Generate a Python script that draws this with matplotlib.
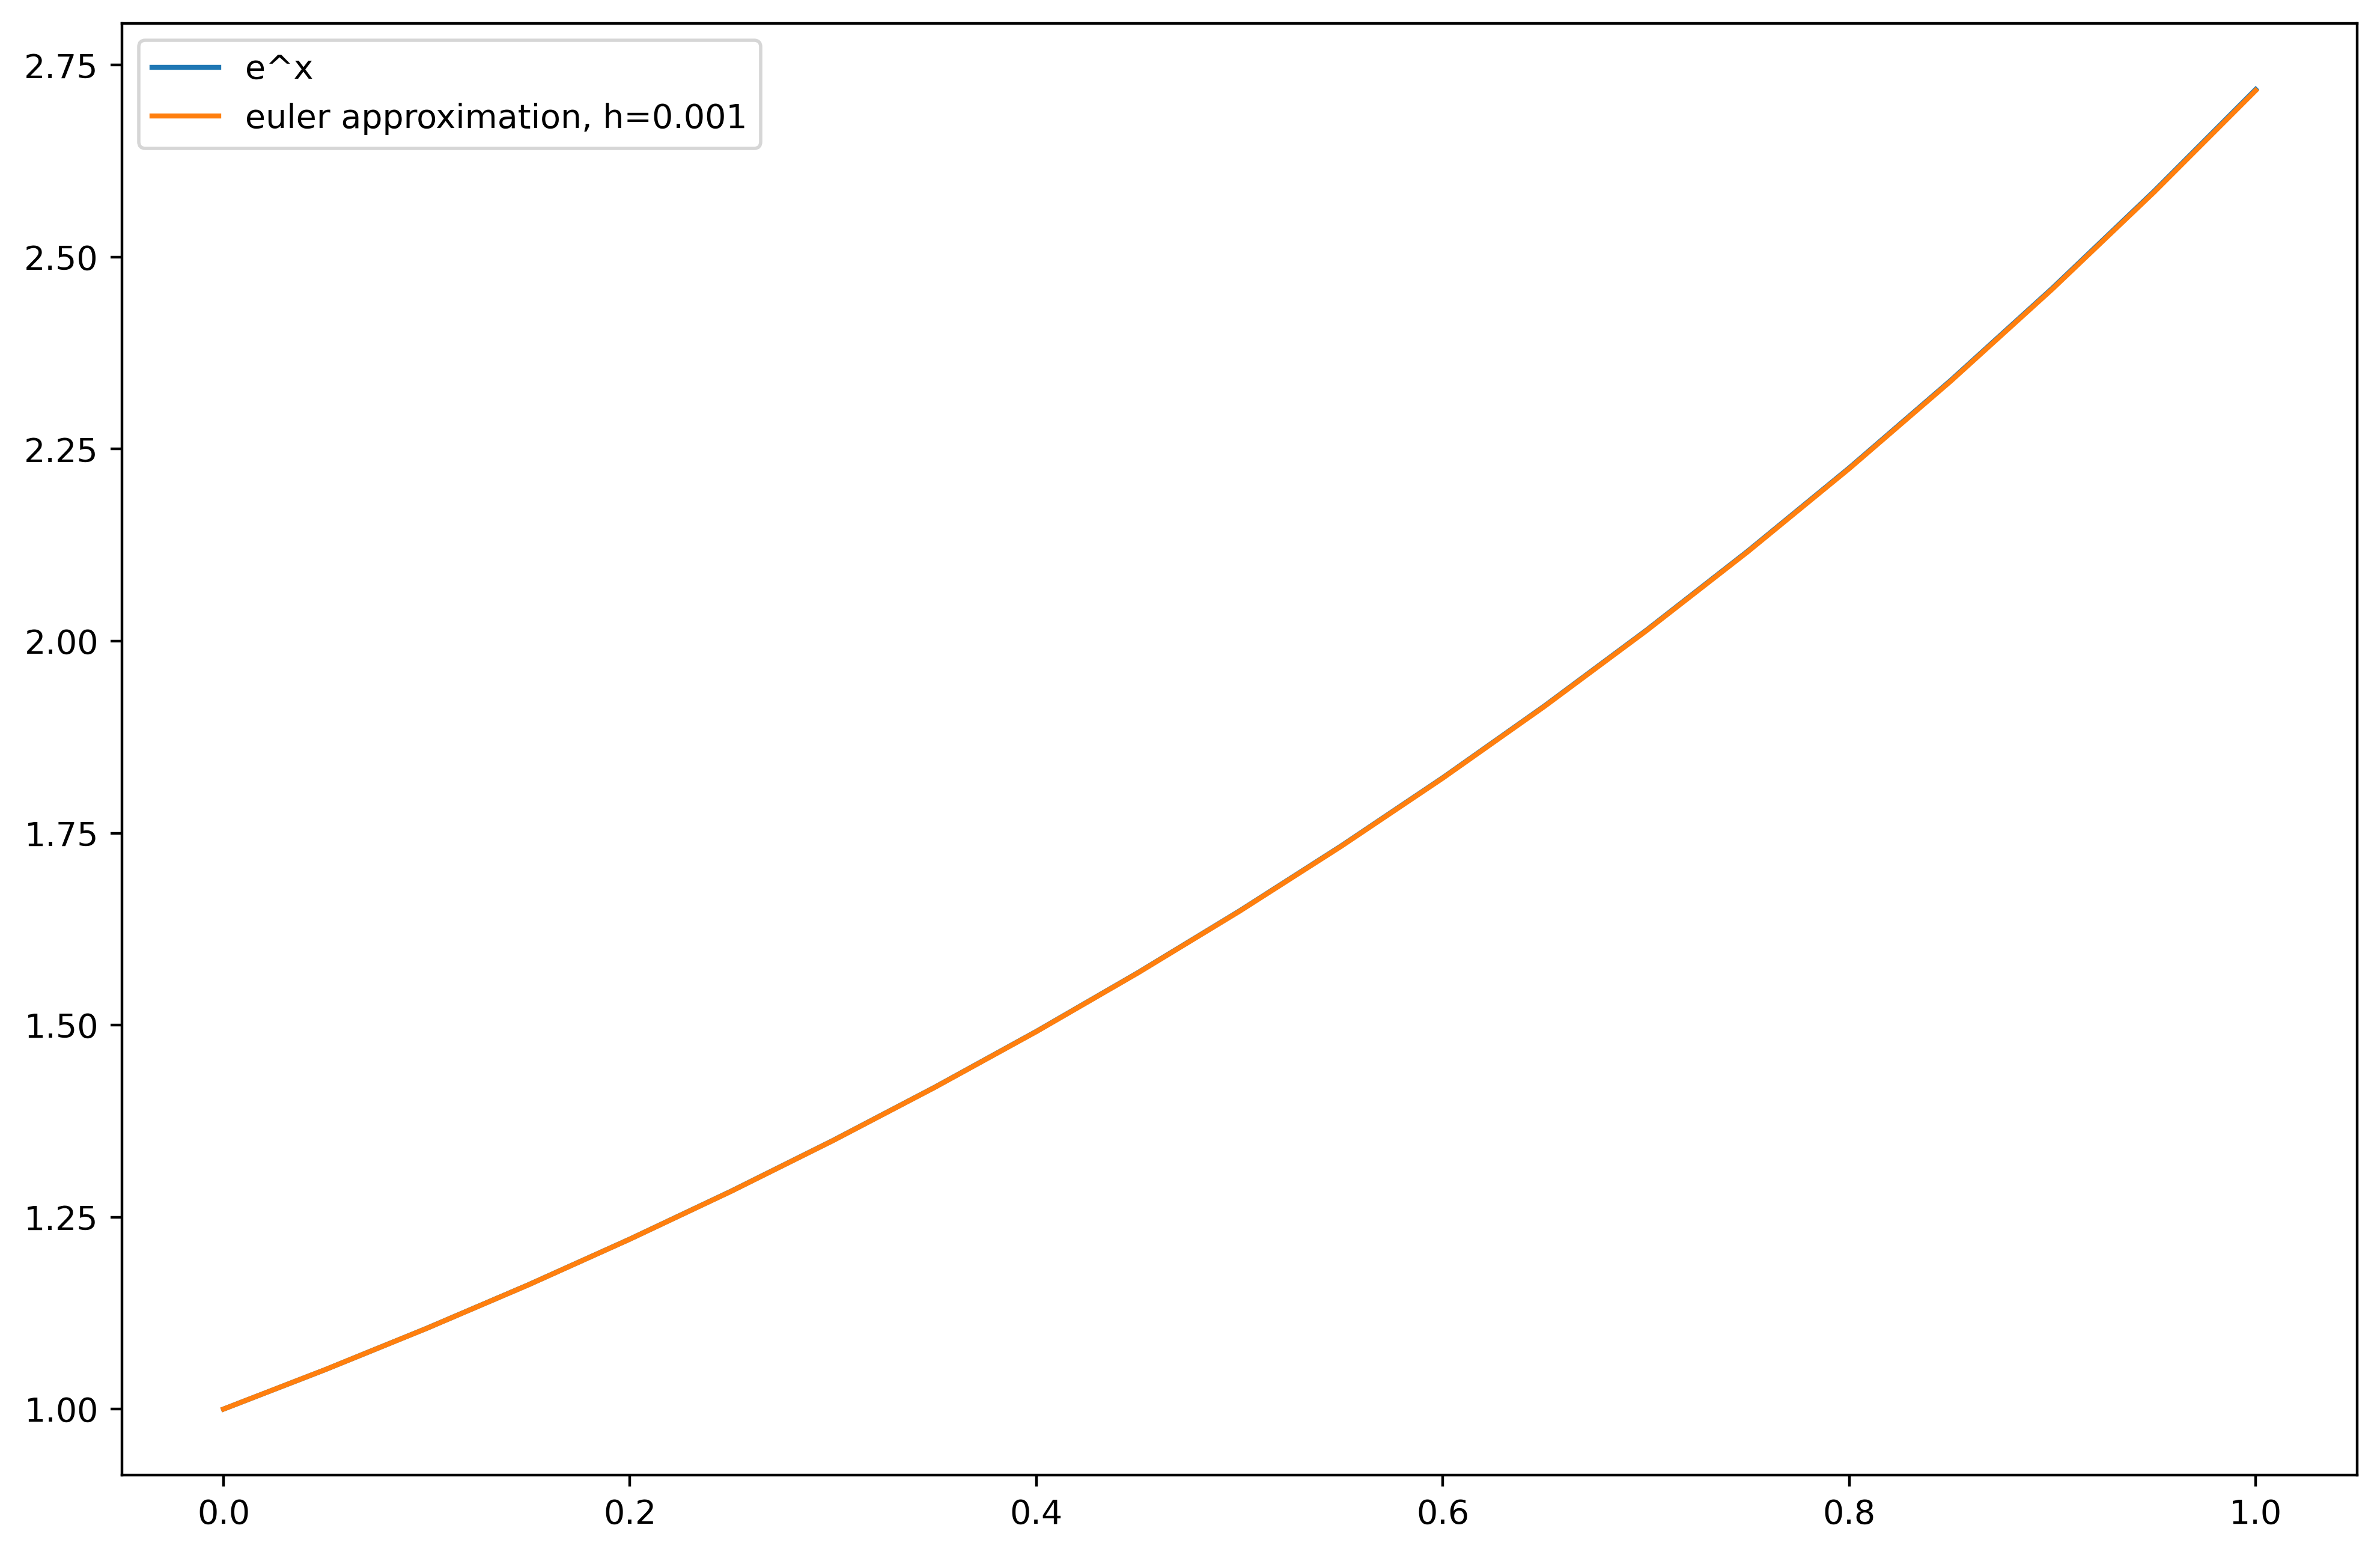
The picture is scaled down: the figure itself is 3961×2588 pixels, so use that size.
import matplotlib
matplotlib.use("Agg")
import matplotlib.pyplot as plt

# x positions
xs = [0.00, 0.05, 0.10, 0.15, 0.20, 0.25, 0.30, 0.35, 0.40, 0.45, 0.50,
      0.55, 0.60, 0.65, 0.70, 0.75, 0.80, 0.85, 0.90, 0.95, 1.00]

# e^x curve
exact = [1.0000, 1.0513, 1.1052, 1.1618, 1.2214, 1.2840, 1.3499, 1.4191,
         1.4918, 1.5683, 1.6487, 1.7333, 1.8221, 1.9155, 2.0138, 2.1170,
         2.2255, 2.3396, 2.4596, 2.5857, 2.7183]

# euler approximation, h=0.001 (sits just under the exact curve)
euler = [1.0000, 1.0513, 1.1051, 1.1617, 1.2213, 1.2838, 1.3497, 1.4189,
         1.4915, 1.5680, 1.6483, 1.7328, 1.8216, 1.9149, 2.0131, 2.1162,
         2.2246, 2.3386, 2.4585, 2.5845, 2.7169]

fig = plt.figure(figsize=(3962 / 400, 2588 / 400), dpi=400)
ax = fig.add_axes([0.0512, 0.0514, 0.939, 0.9335])

ax.plot(xs, exact, label="e^x")
ax.plot(xs, euler, label="euler approximation, h=0.001")
ax.legend(loc="upper left")

fig.savefig("out.png", dpi=400)
